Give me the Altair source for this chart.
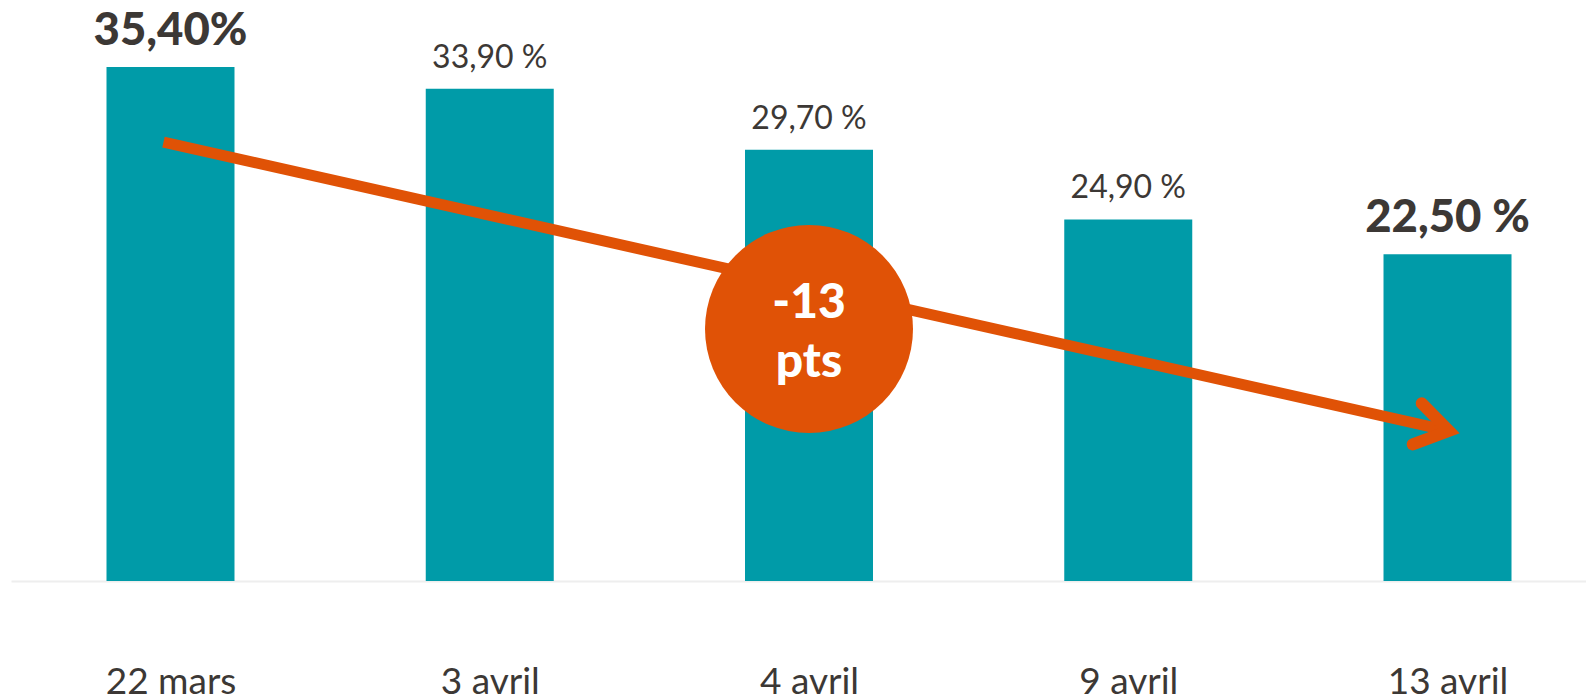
import altair as alt
import pandas as pd

# ---- data ----
dates = ["22 mars", "3 avril", "4 avril", "9 avril", "13 avril"]
values = [35.4, 33.9, 29.7, 24.9, 22.5]
value_labels = ["35,40%", "33,90 %", "29,70 %", "24,90 %", "22,50 %"]

# arrow (in data units: x = bar index, y = percent)
arrow_x = [-0.0219, 4.0044]
arrow_y = [30.23, 10.34]
head_x = [3.9192, 4.0044, 3.8910]
head_y = [12.24, 10.34, 9.41]
badge_x = [2.0]
badge_y = [17.36]
badge_lines = ["-13", "pts"]

TEAL = "#009BA8"
ORANGE = "#E05206"
TEXT = "#3C3835"
FONT = "Lato"

W, H = 1575, 570
XDOM = [-0.4996, 4.4338]
YDOM = [0, 39.256]

bars = pd.DataFrame({"i": list(range(len(dates))), "v": values, "lab": value_labels})
arrow = pd.DataFrame({"x": [arrow_x[0]], "y": [arrow_y[0]], "x2": [arrow_x[1]], "y2": [arrow_y[1]]})
head = pd.DataFrame({"x": head_x, "y": head_y, "o": list(range(len(head_x)))})
badge = pd.DataFrame({"x": badge_x, "y": badge_y})
badge_txt = pd.DataFrame({"x": badge_x * 2, "y": badge_y * 2, "t": badge_lines, "k": [0, 1]})

label_expr = "[" + ",".join("'" + d + "'" for d in dates) + "][datum.value]"

xs = alt.Scale(domain=XDOM, nice=False, zero=False, padding=0)
ys = alt.Scale(domain=YDOM, nice=False, zero=False, padding=0)

x_axis = alt.Axis(values=list(range(len(dates))), labelExpr=label_expr, title=None,
                  ticks=False, grid=False, domain=True, domainColor="#EEEEEE", domainWidth=2,
                  labelFont=FONT, labelFontSize=37, labelColor=TEXT, labelPadding=112,
                  labelBaseline="alphabetic", labelFlush=False, labelOverlap=False)

base_bar = alt.Chart(bars).mark_bar(width=128, color=TEAL).encode(
    x=alt.X("i:Q", scale=xs, axis=x_axis),
    y=alt.Y("v:Q", scale=ys, axis=None),
)

lab_reg = alt.Chart(bars).transform_filter("datum.i > 0 && datum.i < 4").mark_text(
    font=FONT, fontSize=32, color=TEXT, baseline="alphabetic", dy=-21
).encode(x=alt.X("i:Q", scale=xs), y=alt.Y("v:Q", scale=ys), text="lab:N")

lab_bold = alt.Chart(bars).transform_filter("datum.i == 0 || datum.i == 4").mark_text(
    font=FONT, fontSize=45.5, fontWeight=900, color=TEXT, baseline="alphabetic", dy=-22
).encode(x=alt.X("i:Q", scale=xs), y=alt.Y("v:Q", scale=ys), text="lab:N")

arrow_line = alt.Chart(arrow).mark_rule(color=ORANGE, strokeWidth=11, strokeCap="butt").encode(
    x=alt.X("x:Q", scale=xs), y=alt.Y("y:Q", scale=ys), x2="x2:Q", y2="y2:Q")

arrow_head = alt.Chart(head).mark_line(color=ORANGE, strokeWidth=12, strokeCap="round",
                                       strokeJoin="miter").encode(
    x=alt.X("x:Q", scale=xs), y=alt.Y("y:Q", scale=ys), order="o:Q")

circle = alt.Chart(badge).mark_point(shape="circle", filled=True, color=ORANGE, opacity=1,
                                     size=43264, strokeWidth=0).encode(
    x=alt.X("x:Q", scale=xs), y=alt.Y("y:Q", scale=ys))

badge_t1 = alt.Chart(badge_txt).transform_filter("datum.k == 0").mark_text(
    font=FONT, fontSize=48, fontWeight=900, color="white", baseline="alphabetic", dy=-11
).encode(x=alt.X("x:Q", scale=xs), y=alt.Y("y:Q", scale=ys), text="t:N")
badge_t2 = alt.Chart(badge_txt).transform_filter("datum.k == 1").mark_text(
    font=FONT, fontSize=48, fontWeight=900, color="white", baseline="alphabetic", dy=48
).encode(x=alt.X("x:Q", scale=xs), y=alt.Y("y:Q", scale=ys), text="t:N")

chart = alt.layer(base_bar, arrow_line, arrow_head, circle, badge_t1, badge_t2, lab_reg, lab_bold).properties(
    width=W, height=H,
    background="white",
    autosize=alt.AutoSizeParams(type="none"),
    padding={"left": 3, "top": 3, "right": 0, "bottom": 116},
).configure_view(stroke=None)

chart.save("out.html", embed_options={"renderer": "svg", "actions": False})
